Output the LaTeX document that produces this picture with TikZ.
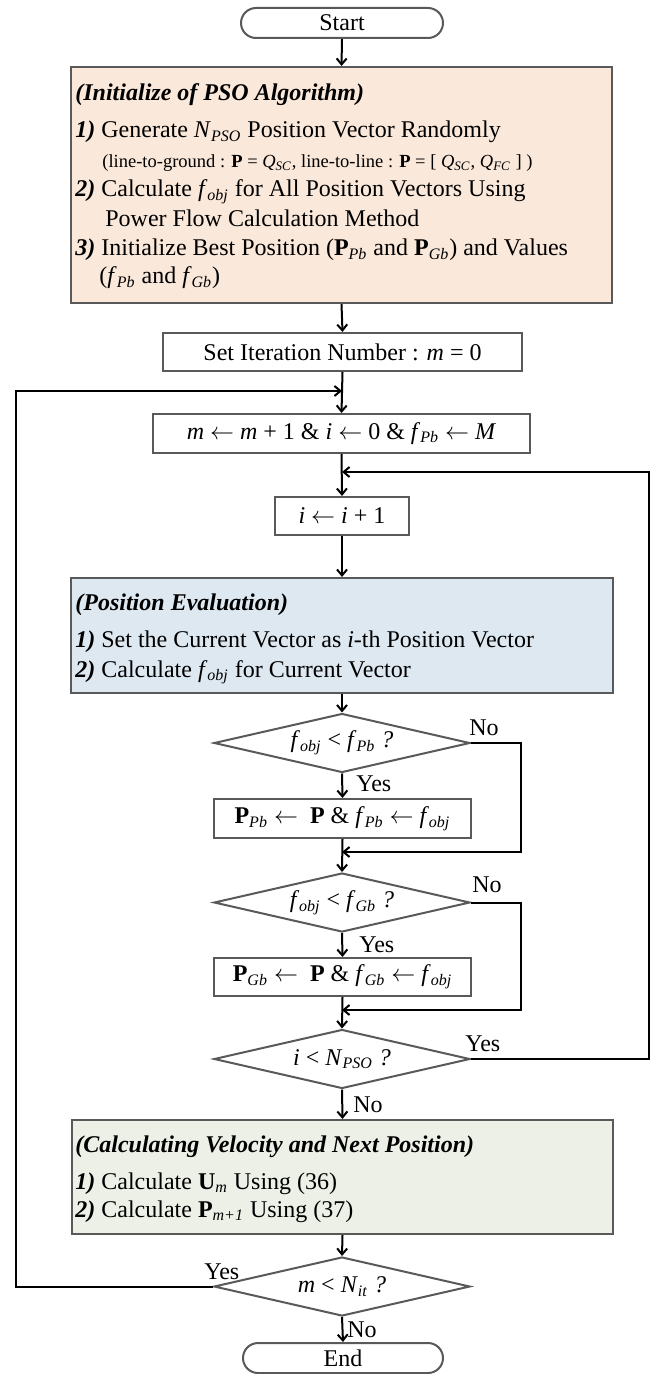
\documentclass[tikz,border=0pt]{standalone}
\usepackage{fontspec}
\setmainfont{Liberation Serif}
\usetikzlibrary{arrows.meta,shapes.geometric}
\definecolor{bordergray}{HTML}{595959}
\definecolor{peach}{HTML}{FAE8DA}
\definecolor{paleblue}{HTML}{DEE8F1}
\definecolor{palegreen}{HTML}{EDF0E6}
\newcommand{\sbi}[1]{\textsubscript{\textit{#1}}}
\newcommand{\bfi}[1]{\textbf{\textit{#1}}}
\newcommand{\fo}{\textit{f}\sbi{obj}}
\newcommand{\lar}{$\leftarrow$}
\begin{document}
\begin{tikzpicture}[x=0.5pt,y=-0.5pt,
  every node/.style={font=\fontsize{12pt}{14.5pt}\selectfont},
  stepbox/.style={draw=bordergray, line width=1pt, inner sep=0pt, fill=white},
  term/.style={stepbox, rounded corners=7.5pt, minimum width=101pt, minimum height=15pt},
  dia/.style={shape=diamond, shape aspect=4.34, draw=bordergray, line width=1pt, inner sep=0pt, minimum width=128pt, minimum height=29.5pt},
  line/.style={anchor=base west, inner sep=0pt},
  small/.style={anchor=base west, inner sep=0pt, font=\fontsize{9.25pt}{11pt}\selectfont},
  lab/.style={anchor=base west, inner sep=0pt},
  conn/.style={draw=black, line width=1pt},
  arr/.style={conn, -{Straight Barb[length=3pt,width=5pt]}}
]
\useasboundingbox (0,0) rectangle (656,1374);

% nodes
\node[term] (start) at (342,23) {Start};

\node[stepbox, fill=peach, minimum width=270.5pt, minimum height=118pt] (init) at (341.5,185) {};
\node[line] (it0) at (75,101) {\bfi{(Initialize of PSO Algorithm)}};
\node[line] (it1) at (75,138) {\bfi{1)} Generate \textit{N}\sbi{PSO} Position Vector Randomly};
\node[small] (it1b) at (102,168) {(line-to-ground : \textbf{P} = \textit{Q}\sbi{SC}, line-to-line : \textbf{P} = [ \textit{Q}\sbi{SC}, \textit{Q}\sbi{FC} ] )};
\node[line] (it2) at (75,197) {\bfi{2)} Calculate \fo{} for All Position Vectors Using};
\node[line] (it2b) at (105,227) {Power Flow Calculation Method};
\node[line] (it3) at (75,256) {\bfi{3)} Initialize Best Position (\textbf{P}\sbi{Pb} and \textbf{P}\sbi{Gb}) and Values};
\node[line] (it3b) at (99,284) {(\textit{f}\sbi{Pb} and \textit{f}\sbi{Gb})};

\node[stepbox, minimum width=179.5pt, minimum height=19pt] (setit) at (342.5,352) {Set Iteration Number : \textit{m} = 0};
\node[stepbox, minimum width=188.5pt, minimum height=19.5pt] (mbox) at (341.5,433.5) {\textit{m} \lar{} \textit{m} + 1 \& \textit{i} \lar{} 0 \& \textit{f}\sbi{Pb} \lar{} \textit{M}};
\node[stepbox, minimum width=67pt, minimum height=19pt] (ibox) at (342,516) {\textit{i} \lar{} \textit{i} + 1};

\node[stepbox, fill=paleblue, minimum width=271pt, minimum height=57.5pt] (pos) at (342,635.5) {};
\node[line] (pt0) at (75,610) {\bfi{(Position Evaluation)}};
\node[line] (pt1) at (75,647) {\bfi{1)} Set the Current Vector as \textit{i}-th Position Vector};
\node[line] (pt2) at (75,677) {\bfi{2)} Calculate \fo{} for Current Vector};

\node[dia] (d1) at (342,743) {\textit{f}\sbi{obj} < \textit{f}\sbi{Pb} \textit{?}};
\node[stepbox, minimum width=128.5pt, minimum height=19.5pt] (ppb) at (342.5,818.5) {\textbf{P}\sbi{Pb} \lar\ \ \textbf{P} \& \textit{f}\sbi{Pb} \lar{} \fo};
\node[dia] (d2) at (342,902.5) {\textit{f}\sbi{obj} < \textit{f}\sbi{Gb} \textit{?}};
\node[stepbox, minimum width=128.5pt, minimum height=19pt] (pgb) at (342.5,977) {\textbf{P}\sbi{Gb} \lar\ \ \textbf{P} \& \textit{f}\sbi{Gb} \lar{} \fo};
\node[dia] (d3) at (342,1059) {\textit{i} < \textit{N}\sbi{PSO} \textit{?}};

\node[stepbox, fill=palegreen, minimum width=270.5pt, minimum height=57pt] (calc) at (342.5,1177) {};
\node[line] (ct0) at (75,1152) {\bfi{(Calculating Velocity and Next Position)}};
\node[line] (ct1) at (75,1189) {\bfi{1)} Calculate \textbf{U}\sbi{m} Using (36)};
\node[line] (ct2) at (75,1217) {\bfi{2)} Calculate \textbf{P}\sbi{m+1} Using (37)};

\node[dia] (d4) at (342,1286.5) {\textit{m} < \textit{N}\sbi{it} \textit{?}};
\node[term, minimum width=100pt] (end) at (343,1358) {End};

% labels
\node[lab] (l1n) at (469,735) {No};
\node[lab] (l1y) at (356,791) {Yes};
\node[lab] (l2n) at (472,892) {No};
\node[lab] (l2y) at (359,952) {Yes};
\node[lab] (l3y) at (465,1051) {Yes};
\node[lab] (l3n) at (353,1112) {No};
\node[lab] (l4y) at (204,1279) {Yes};
\node[lab] (l4n) at (347,1337) {No};

% junction coordinates
\coordinate (c1) at (521,852);
\coordinate (j1) at (342,852);
\coordinate (c2) at (521,1010);
\coordinate (j2) at (342,1010);
\coordinate (c3) at (649,472);
\coordinate (j3) at (342,472);
\coordinate (c4) at (16,391);
\coordinate (j4) at (342,391);

% connectors
\draw[arr] (start.south) -- (init.north);
\draw[arr] (init.south) -- (setit.north);
\draw[arr] (setit.south) -- (mbox.north);
\draw[arr] (mbox.south) -- (ibox.north);
\draw[arr] (ibox.south) -- (pos.north);
\draw[arr] (pos.south) -- (d1.north);
\draw[arr] (d1.south) -- (ppb.north);
\draw[arr] (ppb.south) -- (d2.north);
\draw[arr] (d2.south) -- (pgb.north);
\draw[arr] (pgb.south) -- (d3.north);
\draw[arr] (d3.south) -- (calc.north);
\draw[arr] (calc.south) -- (d4.north);
\draw[arr] (d4.south) -- (end.north);
\draw[arr] (d1.east) -| (c1) -- (j1);
\draw[arr] (d2.east) -| (c2) -- (j2);
\draw[arr] (d3.east) -| (c3) -- (j3);
\draw[arr] (d4.west) -| (c4) -- (j4);
\end{tikzpicture}
\end{document}
